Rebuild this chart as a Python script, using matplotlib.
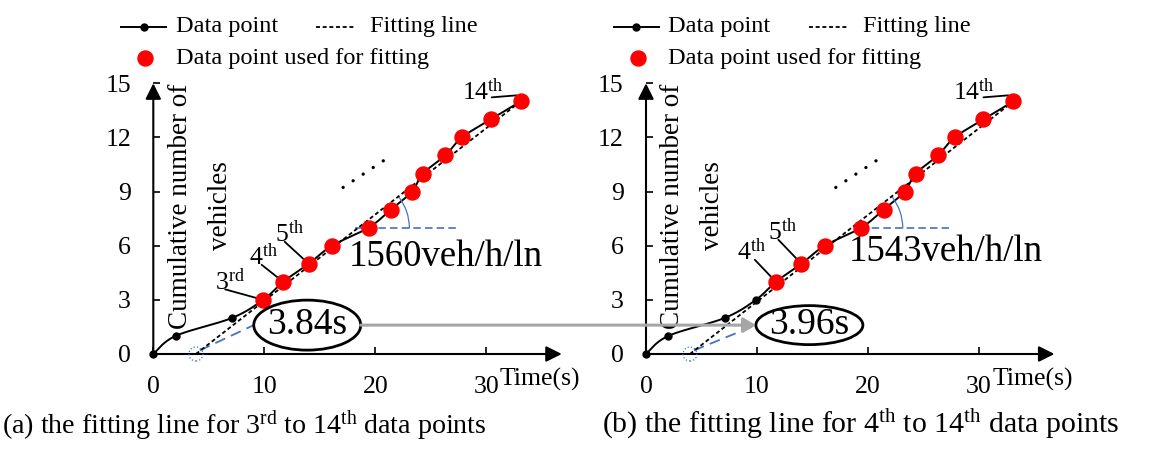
import numpy as np
import matplotlib
matplotlib.use("Agg")
import matplotlib.pyplot as plt
from matplotlib.patches import Ellipse, Arc, ConnectionPatch
from matplotlib.lines import Line2D
from matplotlib.transforms import offset_copy

plt.rcParams['font.family'] = ['Liberation Serif', 'DejaVu Serif']
plt.rcParams['mathtext.fontset'] = 'custom'
plt.rcParams['mathtext.rm'] = 'Liberation Serif'
plt.rcParams['mathtext.it'] = 'Liberation Serif:italic'
plt.rcParams['mathtext.bf'] = 'Liberation Serif:bold'

# Cumulative vehicle arrivals (time in s, cumulative count)
time_s = [0, 2.0, 7.1, 9.9, 11.7, 14.0, 16.1, 19.4, 21.4, 23.3, 24.3, 26.3, 27.8, 30.4, 33.1]
vehicles = [0, 1, 2, 3, 4, 5, 6, 7, 8, 9, 10, 11, 12, 13, 14]

# One panel per choice of first fitted point
panel_tags = ['a', 'b']
first_fit = [3, 4]
last_fit = 14
intercepts = [3.84, 3.96]          # s
flows = [1560, 1543]               # veh/h/ln

x_ticks = [0, 10, 20, 30]
y_ticks = [0, 3, 6, 9, 12, 15]
y_title_lines = ["Cumulative number of", "vehicles"]

BLUE = '#4472C4'
GRAY = '#A6A6A6'
RED = '#FF0000'
FIT_DASH = (2.2, 1.5)

W, H, DPI = 1164, 454, 100
fig = plt.figure(figsize=(W / DPI, H / DPI), dpi=DPI)

XMAX, YMAX = 36.8, 15.0
ax_w_px = XMAX * 11.1
ax_h_px = 270.7
origins_px = [(153.3, 354.0), (646.0, 354.0)]
SX = ax_w_px / XMAX      # px per second
SY = ax_h_px / YMAX      # px per vehicle


def fx(x):
    return x / W


def fy(y):
    return 1 - y / H


def ordinal(k):
    if 10 <= k % 100 <= 20:
        suf = 'th'
    else:
        suf = {1: 'st', 2: 'nd', 3: 'rd'}.get(k % 10, 'th')
    return f"{k}$^{{\\mathrm{{{suf}}}}}$"


def smooth_curve(xs, ys, n=24):
    """Cubic Bezier smoothing through every point (spreadsheet-style smoothed line)."""
    P = np.column_stack([xs, ys]).astype(float)
    out = [P[0]]
    s = np.linspace(0, 1, n)[1:, None]
    for i in range(len(P) - 1):
        p0 = P[i - 1] if i > 0 else P[i]
        p1, p2 = P[i], P[i + 1]
        p3 = P[i + 2] if i + 2 < len(P) else P[i + 1]
        c1 = p1 + (p2 - p0) / 6.0
        c2 = p2 - (p3 - p1) / 6.0
        seg = (1 - s) ** 3 * p1 + 3 * (1 - s) ** 2 * s * c1 + 3 * (1 - s) * s ** 2 * c2 + s ** 3 * p2
        out.extend(seg)
    return np.array(out)


# label placement (pixel offsets from the marked point): text origin, leader start, leader end
label_layout = [
    {3: ((-48, 10), (-38, 10.5), (0, 0)),
     4: ((-34, 17), (-21.5, 17), (0, 0)),
     5: ((-34, 22), (-24, 22), (0, 0)),
     14: ((-59, 1), (-29, 4), (-4, 6))},
    {4: ((-39, 22), (-21, 22), (0, 0)),
     5: ((-33, 24), (-23, 24), (0, 0)),
     14: ((-60, 1), (-30, 4), (-5, 6))},
]
ellipse_geo = [((13.87, 1.6), 107, 50), ((14.72, 1.6), 107, 39)]
flow_text_pos = [(17.57, 4.88), (18.23, 5.17)]
hline_span = [(18.2, 27.6), (19.3, 27.3)]
hline_level = 6.96
arc_radius_px = 52
caption_size = [20.2, 21.5]
caption_x = [2, 602]
y_title_x = [0.0659, 0.1638]

axes = []
for p in range(2):
    ox, oy = origins_px[p]
    ax = fig.add_axes([fx(ox), fy(oy), ax_w_px / W, ax_h_px / H])
    axes.append(ax)
    ax.set_xlim(0, XMAX)
    ax.set_ylim(0, YMAX)
    for sp in ax.spines.values():
        sp.set_visible(False)
    ax.patch.set_alpha(0)
    ax.set_xticks(x_ticks)
    ax.set_yticks(y_ticks)
    ax.tick_params(direction='in', length=5, width=1.2, pad=16, labelsize=18.5, colors='black')

    # axes with arrow heads
    arrow_kw = dict(arrowstyle='-|>,head_length=0.5,head_width=0.25', lw=1.5, color='black',
                    mutation_scale=19, shrinkA=0, shrinkB=0)
    ax.annotate('', xy=(XMAX, 0), xytext=(0, 0), arrowprops=arrow_kw, annotation_clip=False)
    ax.annotate('', xy=(0, YMAX), xytext=(0, 0), arrowprops=arrow_kw, annotation_clip=False)

    # smoothed data curve
    curve = smooth_curve(time_s, vehicles)
    ax.plot(curve[:, 0], curve[:, 1], color='black', lw=1.4, zorder=3, clip_on=False)

    used = [i for i, v in enumerate(vehicles) if first_fit[p] <= v <= last_fit]
    unused = [i for i in range(len(vehicles)) if i not in used]
    ax.plot([time_s[i] for i in unused], [vehicles[i] for i in unused], 'o', color='black',
            ms=5, zorder=4, clip_on=False)

    # fitting line from the intercept to the last fitted point
    t0 = intercepts[p]
    t_end, n_end = time_s[used[-1]], vehicles[used[-1]]
    slope = (n_end - 0) / (t_end - t0)
    ax.plot([t0, t_end], [0, n_end], color='black', lw=1.3, dashes=FIT_DASH, zorder=3.5,
            clip_on=False)

    ax.plot([time_s[i] for i in used], [vehicles[i] for i in used], 'o', color=RED,
            ms=10.8, zorder=5, clip_on=False)

    # ordinal labels with leader lines
    for k, (txt_off, start_off, end_off) in label_layout[p].items():
        i = vehicles.index(k)
        pt = (time_s[i], vehicles[i])
        end_tr = offset_copy(ax.transData, fig=fig, x=end_off[0], y=end_off[1], units='dots')
        ax.annotate('', xy=pt, xycoords=end_tr,
                    xytext=(start_off[0] - end_off[0], start_off[1] - end_off[1]),
                    textcoords='offset pixels',
                    arrowprops=dict(arrowstyle='-', lw=1.3, color='black', shrinkA=0, shrinkB=0),
                    zorder=2.5, annotation_clip=False)
        ax.annotate(ordinal(k), xy=pt, xytext=txt_off, textcoords='offset pixels',
                    ha='left', va='baseline', fontsize=18.5, zorder=6, annotation_clip=False)

    # dotted ellipsis for omitted points
    ax.plot([17.1, 21.2], [9.23, 10.9], color='black', lw=2.4, dashes=(0.01, 3.6),
            dash_capstyle='round', zorder=3)

    # intercept marker and its leader to the label
    ax.add_patch(Ellipse((t0, 0), 14 / SX, 14 / SY, fill=False, ec=BLUE, lw=0.9, ls=':',
                         zorder=6, clip_on=False))
    (ecx, ecy), ew_px, eh_px = ellipse_geo[p]
    ew, eh = ew_px / SX, eh_px / SY
    ax.plot([t0 + 0.35, ecx - ew / 2], [0.2, ecy], color=BLUE, lw=1.3, dashes=(6, 3.5), zorder=3)
    ax.add_patch(Ellipse((ecx, ecy), ew, eh, fill=True, fc='white', ec='black', lw=2.0, zorder=6,
                         clip_on=False))
    ax.text(ecx, ecy, f"{intercepts[p]:.2f}s", ha='center', va='center', fontsize=27, zorder=7)

    # flow angle marker
    h0, h1 = hline_span[p]
    ax.plot([h0, h1], [hline_level, hline_level], color=BLUE, lw=1.2, dashes=(4.5, 2.5), zorder=3)
    tc = t0 + hline_level / slope
    ax.add_patch(Arc((tc, hline_level), 2 * arc_radius_px / SX, 2 * arc_radius_px / SY,
                     theta1=0, theta2=np.degrees(np.arctan(slope)), color=BLUE, lw=0.9, zorder=3))
    ftx, fty = flow_text_pos[p]
    ax.text(ftx, fty, f"{flows[p]}veh/h/ln", ha='left', va='baseline', fontsize=26.5, zorder=7)

    # axis titles (vertical title in two centred lines)
    for line, lxf in zip(y_title_lines, y_title_x):
        ax.text(lxf, 0.547, line, transform=ax.transAxes, rotation=90, ha='center',
                va='center', fontsize=19.5, zorder=2)
    ax.annotate("Time(s)", xy=(31.2, 0), xytext=(0, -32), textcoords='offset pixels',
                ha='left', va='baseline', fontsize=18.5, annotation_clip=False)

    # legend
    lx = ox - 32
    fig.add_artist(Line2D([fx(lx), fx(lx + 45)], [fy(27), fy(27)], color='black', lw=1.4))
    fig.add_artist(Line2D([fx(lx + 22.5)], [fy(27)], marker='o', ms=5, color='black', lw=0))
    fig.text(fx(lx + 54.5), fy(32.3), "Data point", fontsize=17.5, va='baseline', ha='left')
    fig.add_artist(Line2D([fx(lx + 195), fx(lx + 235)], [fy(27), fy(27)], color='black', lw=1.3,
                          dashes=FIT_DASH))
    fig.text(fx(lx + 249), fy(32.3), "Fitting line", fontsize=17.5, va='baseline', ha='left')
    fig.add_artist(Line2D([fx(lx + 24)], [fy(58)], marker='o', ms=10.8, color=RED, lw=0))
    fig.text(fx(lx + 54.5), fy(64), "Data point used for fitting", fontsize=17.5,
             va='baseline', ha='left')

    # caption
    fig.text(fx(caption_x[p]), fy(433),
             f"({panel_tags[p]}) the fitting line for {ordinal(first_fit[p])} to "
             f"{ordinal(last_fit)} data points",
             fontsize=caption_size[p], va='baseline', ha='left')

# arrow linking the two intercepts
(ec0, ey0), ew0, _ = ellipse_geo[0]
(ec1, ey1), ew1, _ = ellipse_geo[1]
con = ConnectionPatch(xyA=(ec0 + ew0 / SX / 2, ey0), coordsA=axes[0].transData,
                      xyB=(ec1 - ew1 / SX / 2, ey1), coordsB=axes[1].transData,
                      arrowstyle='-|>,head_length=0.5,head_width=0.3', mutation_scale=15,
                      lw=2.2, color=GRAY, shrinkA=0, shrinkB=0, zorder=1)
fig.add_artist(con)

fig.savefig('out.png', dpi=DPI)
